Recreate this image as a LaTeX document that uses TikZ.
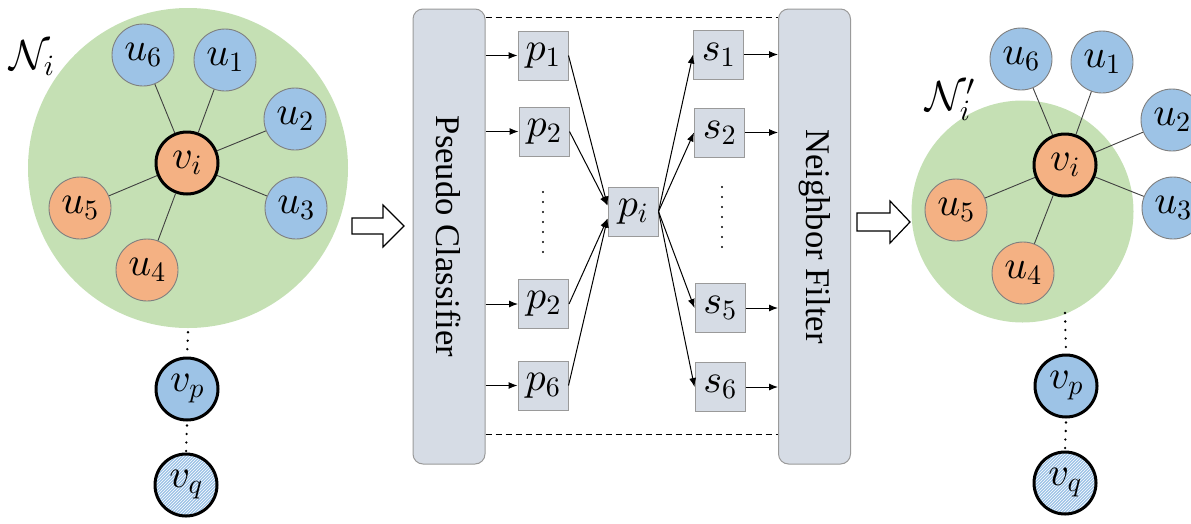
\documentclass[tikz,border=0pt]{standalone}
\usepackage{fontspec}
\setmainfont{Liberation Serif}
\DeclareFontShape{OML}{cmm}{m}{it}{<->cmmi10}{}
\DeclareFontShape{OMS}{cmsy}{m}{n}{<->cmsy10}{}
\DeclareFontShape{OT1}{cmr}{m}{n}{<->cmr10}{}
\usetikzlibrary{arrows.meta,patterns}
\definecolor{cgreen}{HTML}{C5E0B4}
\definecolor{cblue}{HTML}{9DC3E6}
\definecolor{corange}{HTML}{F4B183}
\definecolor{cbox}{HTML}{D6DCE5}
\definecolor{cbord}{HTML}{9A9A9A}
\definecolor{cgray}{HTML}{7F7F7F}
\definecolor{cedge}{HTML}{404040}
\begin{document}
\begin{tikzpicture}[x=1pt,y=-1pt,
  every node/.style={inner sep=0pt},
  mfont/.style={font=\fontsize{40}{46}\selectfont},
  nb/.style={circle,draw=cgray,line width=0.9pt,minimum size=62pt,mfont},
  bl/.style={nb,fill=cblue},
  og/.style={nb,fill=corange},
  ctr/.style={circle,draw=black,line width=3pt,minimum size=62pt,fill=corange,mfont},
  vpn/.style={circle,draw=black,line width=3pt,minimum size=62pt,fill=cblue,mfont},
  vqn/.style={circle,draw=black,line width=3pt,minimum size=62pt,preaction={fill=cblue},pattern=north east lines,pattern color=white,mfont},
  hood/.style={circle,fill=cgreen},
  lnk/.style={draw=cedge,line width=0.9pt},
  dotline/.style={line width=2.6pt,dash pattern=on 0pt off 8.5pt,line cap=round},
  pbox/.style={draw=cbord,fill=cbox,line width=1pt,minimum width=50pt,minimum height=49pt,mfont},
  big/.style={draw=cbord,fill=cbox,rounded corners=10pt,line width=1pt,minimum width=72pt,minimum height=455pt},
  arr/.style={-{Latex[length=9pt,width=7pt]},line width=1pt},
  blockarrow/.style={line width=1.2pt,fill=white,line join=miter},
  lbl/.style={font=\fontsize{42}{46}\selectfont},
  rtext/.style={rotate=-90,font=\fontsize{34.6}{40}\selectfont}
]
\useasboundingbox (0,0) rectangle (1191,523);
\clip (0,0) rectangle (1191,523);

% ---------- left graph ----------
\node[hood,minimum size=320pt] (hoodL) at (188,168) {};
\node[lbl] (NL) at (32,58) {$\mathcal{N}_i$};
\node[ctr] (viL) at (187,163) {$v_i$};
\node[bl] (u6L) at (143,55) {$u_6$};
\node[bl] (u1L) at (225,60) {$u_1$};
\node[bl] (u2L) at (295,119) {$u_2$};
\node[bl] (u3L) at (296,208) {$u_3$};
\node[og] (u5L) at (80,208) {$u_5$};
\node[og] (u4L) at (147,270) {$u_4$};
\foreach \n in {u6L,u1L,u2L,u3L,u5L,u4L} \draw[lnk] (viL) -- (\n);
\node[vpn] (vpL) at (187,389) {$v_p$};
\node[vqn] (vqL) at (186,485) {$v_q$};
\draw[dotline] ([yshift=-4pt]hoodL.south) -- (vpL.north);
\draw[dotline] ([yshift=-4pt]vpL.south) -- (vqL.north);

% ---------- block arrow 1 ----------
\draw[blockarrow,shift={(352,226)}] (0,-8) -- (31,-8) -- (31,-21) -- (52,0) -- (31,21) -- (31,8) -- (0,8) -- cycle;

% ---------- middle ----------
\coordinate (dtop) at (0,17);
\coordinate (dbot) at (0,434);
\node[big] (pc) at (449,236.5) {};
\node[big] (nf) at (814.5,236.5) {};
\node[rtext] at (pc) {Pseudo Classifier};
\node[rtext] at (nf) {Neighbor Filter};
\draw[dashed,line width=1pt,dash pattern=on 6pt off 4pt] (pc.east |- dtop) -- (nf.west |- dtop);
\draw[dashed,line width=1pt,dash pattern=on 6pt off 4pt] (pc.east |- dbot) -- (nf.west |- dbot);

\node[pbox] (p1) at (543,55.5) {$p_1$};
\node[pbox] (p2) at (544,131.5) {$p_2$};
\node[pbox] (p2b) at (543.5,304) {$p_2$};
\node[pbox] (p6) at (543,385.5) {$p_6$};
\node[pbox] (pi) at (633,211.5) {$p_i$};
\node[pbox] (s1) at (718.5,54.5) {$s_1$};
\node[pbox] (s2) at (719.5,132.5) {$s_2$};
\node[pbox] (s5) at (720,308) {$s_5$};
\node[pbox] (s6) at (720,387) {$s_6$};

\coordinate (pdA) at (543,192);
\coordinate (pdB) at (543,254);
\coordinate (sdA) at (722,187);
\coordinate (sdB) at (722,249);
\draw[dotline,line width=2.4pt,dash pattern=on 0pt off 10pt] (pdA) -- (pdB);
\draw[dotline,line width=2.4pt,dash pattern=on 0pt off 10pt] (sdA) -- (sdB);

\foreach \n in {p1,p2,p2b,p6} \draw[arr] (\n.west -| pc.east) -- (\n.west);
\foreach \n in {s1,s2,s5,s6} \draw[arr] (\n.east) -- (\n.east -| nf.west);
\draw[arr] (p1.east) -- ([yshift=6pt]pi.west);
\draw[arr] (p2.east) -- ([yshift=6pt]pi.west);
\draw[arr] (p2b.east) -- ([yshift=-7pt]pi.west);
\draw[arr] (p6.east) -- ([yshift=-7pt]pi.west);
\foreach \n in {s1,s2,s5,s6} \draw[arr] (pi.east) -- (\n.west);

% ---------- block arrow 2 ----------
\draw[blockarrow,shift={(857,222)}] (0,-9) -- (33,-9) -- (33,-21) -- (53,0) -- (33,21) -- (33,9) -- (0,9) -- cycle;

% ---------- right graph ----------
\node[hood,minimum size=222pt] (hoodR) at (1022.5,211.5) {};
\node[lbl] (NR) at (950,100) {$\mathcal{N}_i'$};
\node[ctr] (viR) at (1065,165) {$v_i$};
\node[bl] (u6R) at (1021,59) {$u_6$};
\node[bl] (u1R) at (1102,62) {$u_1$};
\node[bl] (u2R) at (1172,120) {$u_2$};
\node[bl] (u3R) at (1173,208) {$u_3$};
\node[og] (u5R) at (956,210) {$u_5$};
\node[og] (u4R) at (1023,273) {$u_4$};
\foreach \n in {u6R,u1R,u2R,u3R,u5R,u4R} \draw[lnk] (viR) -- (\n);
\node[vpn] (vpR) at (1066,386) {$v_p$};
\node[vqn] (vqR) at (1065,483) {$v_q$};
\coordinate (dR) at (1065,313);
\draw[dotline] (dR) -- (vpR.north);
\draw[dotline] ([yshift=-4pt]vpR.south) -- (vqR.north);
\end{tikzpicture}
\end{document}
